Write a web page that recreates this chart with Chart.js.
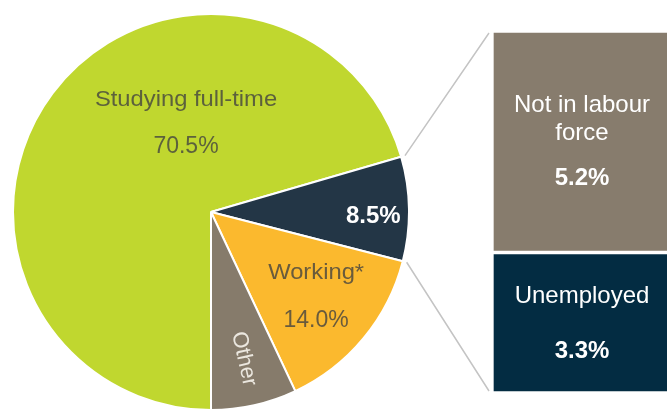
<!DOCTYPE html>
<html>
<head>
<meta charset="utf-8">
<script src="https://cdn.jsdelivr.net/npm/chart.js@4"></script>
<style>
  html, body { margin: 0; padding: 0; background: #ffffff; overflow: hidden; }
  body { width: 667px; height: 410px; position: relative; }
  #pie-wrap { position: absolute; left: 12px; top: 13px; width: 398px; height: 398px; }
  #bar-wrap { position: absolute; left: 0; top: 0; width: 672px; height: 410px; }
</style>
</head>
<body>
<div id="pie-wrap"><canvas id="pie-chart"></canvas></div>
<div id="bar-wrap"><canvas id="bar-chart"></canvas></div>
<script>
// pie: main destinations
const pieLabels = ['Studying full-time', 'Not working', 'Working*', 'Other'];
const pieValues = [70.5, 8.5, 14.0, 7.0];
const pieColors = ['#c0d72f', '#233646', '#fbb92e', '#867b6b'];

// bar: split of the 8.5% slice
const barLabels = ['Unemployed', 'Not in labour force'];
const barValues = [3.3, 5.2];
const barColors = ['#032c42', '#877c6d'];

const FONT = '"Liberation Sans", Arial, sans-serif';
const pct = (v) => v.toFixed(1) + '%';

const drawText = (ctx, text, x, y, font, color, stretch) => {
  ctx.save();
  ctx.translate(x, y);
  ctx.scale(stretch || 1, 1);
  ctx.font = font;
  ctx.fillStyle = color;
  ctx.textAlign = 'center';
  ctx.textBaseline = 'middle';
  ctx.fillText(text, 0, 0);
  ctx.restore();
};

const pieLabelPlugin = {
  id: 'pieLabels',
  afterDatasetsDraw(chart) {
    const ctx = chart.ctx;
    const arcs = chart.getDatasetMeta(0).data;
    const dark = 'rgba(64,64,64,0.78)';

    // studying full-time
    let a = arcs[0];
    drawText(ctx, pieLabels[0], a.x - 25, a.y - 112, '22px ' + FONT, dark, 1.08);
    drawText(ctx, pct(pieValues[0]), a.x - 25, a.y - 65, '23px ' + FONT, dark, 1.0);

    // combined not working slice
    a = arcs[1];
    let mid = (a.startAngle + a.endAngle) / 2;
    let r = a.outerRadius * 0.82;
    drawText(ctx, pct(pieValues[1]), a.x + Math.cos(mid) * r, a.y + Math.sin(mid) * r + 7,
      'bold 24px ' + FONT, '#ffffff', 1.0);

    // working
    a = arcs[2];
    mid = (a.startAngle + a.endAngle) / 2;
    r = a.outerRadius * 0.63;
    const wx = a.x + Math.cos(mid) * r + 9;
    const wy = a.y + Math.sin(mid) * r + 5;
    drawText(ctx, pieLabels[2], wx, wy - 24, '22px ' + FONT, dark, 1.08);
    drawText(ctx, pct(pieValues[2]), wx, wy + 24, '23px ' + FONT, dark, 1.0);

    // other, written along the radius
    a = arcs[3];
    mid = (a.startAngle + a.endAngle) / 2;
    r = a.outerRadius * 0.76;
    ctx.save();
    ctx.translate(a.x + Math.cos(mid) * r, a.y + Math.sin(mid) * r);
    ctx.rotate(mid);
    drawText(ctx, pieLabels[3], 0, 0, '22px ' + FONT, '#ebe7df', 1.0);
    ctx.restore();
  },
};

const pieChart = new Chart(document.getElementById('pie-chart'), {
  type: 'pie',
  data: {
    labels: pieLabels,
    datasets: [{
      data: pieValues,
      backgroundColor: pieColors,
      borderColor: '#ffffff',
      borderWidth: 2,
    }],
  },
  options: {
    animation: false,
    responsive: true,
    maintainAspectRatio: false,
    rotation: 180,
    layout: { padding: 0 },
    plugins: { legend: { display: false }, tooltip: { enabled: false } },
  },
  plugins: [pieLabelPlugin],
});

const barPlugin = {
  id: 'barExtras',
  afterDatasetsDraw(chart) {
    const ctx = chart.ctx;
    const low = chart.getDatasetMeta(0).data[0];
    const high = chart.getDatasetMeta(1).data[0];

    // connectors from the pie slice to the bar
    const arc = pieChart.getDatasetMeta(0).data[1];
    const off = pieChart.canvas.getBoundingClientRect();
    const r = arc.outerRadius + 4;
    const left = low.x - low.width / 2;
    ctx.save();
    ctx.strokeStyle = '#c4c4c4';
    ctx.lineWidth = 1.5;
    ctx.beginPath();
    ctx.moveTo(off.left + arc.x + Math.cos(arc.startAngle) * r, off.top + arc.y + Math.sin(arc.startAngle) * r);
    ctx.lineTo(left - 3, high.y + 2);
    ctx.moveTo(off.left + arc.x + Math.cos(arc.endAngle) * r, off.top + arc.y + Math.sin(arc.endAngle) * r);
    ctx.lineTo(left - 3, low.base - 2);
    ctx.stroke();
    ctx.restore();

    // labels in the boxes
    const cx = low.x;
    const topMid = (high.y + high.base) / 2;
    drawText(ctx, 'Not in labour', cx, topMid - 36, '24px ' + FONT, '#ffffff', 1.0);
    drawText(ctx, 'force', cx, topMid - 8, '24px ' + FONT, '#ffffff', 1.0);
    drawText(ctx, pct(barValues[1]), cx, topMid + 37, 'bold 24px ' + FONT, '#ffffff', 1.0);
    const lowMid = (low.y + low.base) / 2;
    drawText(ctx, barLabels[0], cx, lowMid - 26, '24px ' + FONT, '#ffffff', 1.0);
    drawText(ctx, pct(barValues[0]), cx, lowMid + 29, 'bold 24px ' + FONT, '#ffffff', 1.0);
  },
};

new Chart(document.getElementById('bar-chart'), {
  type: 'bar',
  data: {
    labels: ['Not working'],
    datasets: barValues.map((v, i) => ({
      label: barLabels[i],
      data: [v],
      backgroundColor: barColors[i],
      borderColor: '#ffffff',
      borderWidth: 2,
      borderSkipped: false,
      barPercentage: 1,
      categoryPercentage: 1,
    })),
  },
  options: {
    animation: false,
    responsive: true,
    maintainAspectRatio: false,
    layout: { padding: { left: 492, top: 31, right: 0, bottom: 17 } },
    plugins: { legend: { display: false }, tooltip: { enabled: false } },
    scales: {
      x: { stacked: true, display: false },
      y: { stacked: true, display: false, min: 0, max: 8.5 },
    },
  },
  plugins: [barPlugin],
});
</script>
</body>
</html>
